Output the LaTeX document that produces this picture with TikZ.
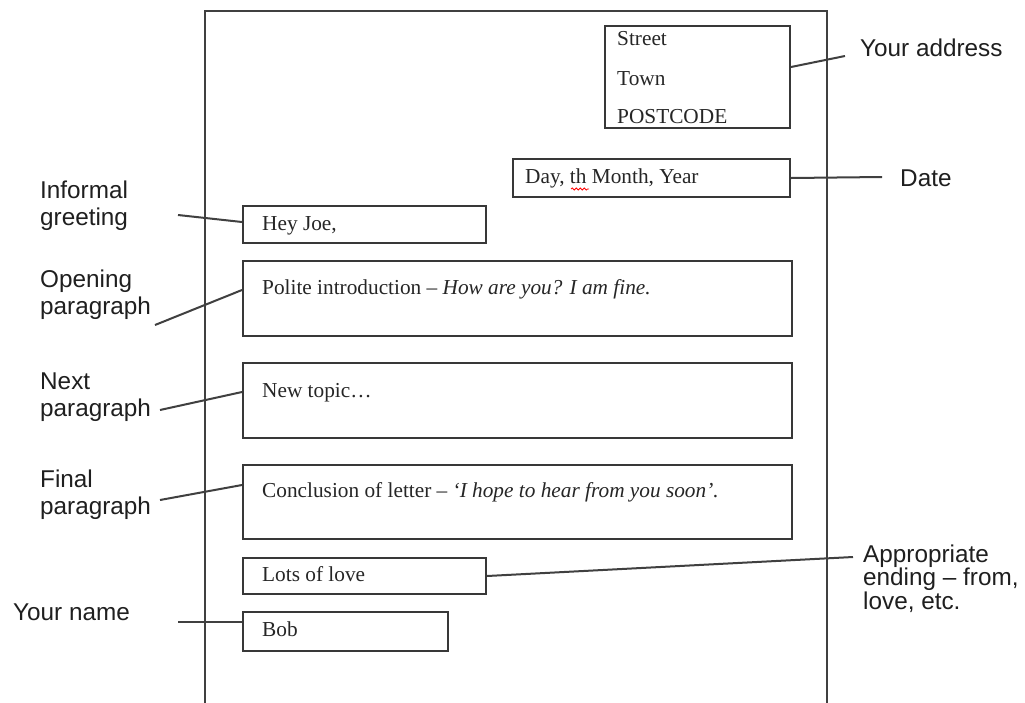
\documentclass[tikz,border=0pt]{standalone}
\usepackage{fontspec}
\setmainfont{Liberation Serif}
\newfontfamily\lblfont{Liberation Sans}
\usetikzlibrary{decorations.pathmorphing}
\begin{document}
\begin{tikzpicture}[x=1pt,y=-1pt,
  lbox/.style={draw=black!78, line width=2pt, inner sep=0pt, anchor=north west},
  btext/.style={anchor=base west, inner sep=0pt, font=\fontsize{21.3}{24}\selectfont, text=black!85},
  lbl/.style={anchor=north west, inner sep=0pt, align=left, font=\lblfont\fontsize{24.3}{27}\selectfont, text=black!88},
  lbltight/.style={lbl, font=\lblfont\fontsize{24.3}{23.5}\selectfont},
  conn/.style={draw=black!75, line width=2pt},
  pageedge/.style={draw=black!75, line width=2pt}]
\useasboundingbox (0,0) rectangle (1025,702);
\fill[white] (0,0) rectangle (1025,702);
% page outline
\draw[pageedge] (205,712) -- (205,11) -- (827,11) -- (827,712);

% boxes
\node[lbox, minimum width=185pt, minimum height=102pt] (addr) at (604,25) {};
\node[lbox, minimum width=277pt, minimum height=38pt] (date) at (512,158) {};
\node[lbox, minimum width=243pt, minimum height=37pt] (greet) at (242,205) {};
\node[lbox, minimum width=549pt, minimum height=75pt] (open) at (242,260) {};
\node[lbox, minimum width=549pt, minimum height=75pt] (next) at (242,362) {};
\node[lbox, minimum width=549pt, minimum height=74pt] (final) at (242,464) {};
\node[lbox, minimum width=243pt, minimum height=36pt] (lots) at (242,557) {};
\node[lbox, minimum width=205pt, minimum height=39pt] (bob) at (242,611) {};

% box texts
\node[btext] (street) at (617,45) {Street};
\node[btext] (town) at (617,85) {Town};
\node[btext] (postcode) at (617,123) {POSTCODE};
\node[btext] (datetxt) at (525,183) {Day, th Month, Year};
\draw[red, line width=0.8pt, decorate, decoration={snake, amplitude=1pt, segment length=4pt}] (571,189) -- (589,189);
\node[btext] (greettxt) at (262,230) {Hey Joe,};
\node[btext] (opentxt) at (262,294) {Polite introduction – \textit{How are you? I am fine.}};
\node[btext] (nexttxt) at (262,397) {New topic…};
\node[btext] (finaltxt) at (262,497) {Conclusion of letter – \textit{‘I hope to hear from you soon’.}};
\node[btext] (lotstxt) at (262,581) {Lots of love};
\node[btext] (bobtxt) at (262,636) {Bob};

% labels
\node[lbl] (laddr) at (860,38.5) {Your address};
\node[lbl] (ldate) at (900,170) {Date};
\node[lbl] (lgreet) at (40,180.5) {Informal\\greeting};
\node[lbl] (lopen) at (40,269.5) {Opening\\paragraph};
\node[lbl] (lnext) at (40,372.5) {Next\\paragraph};
\node[lbl] (lfinal) at (40,469.5) {Final\\paragraph};
\node[lbl] (lname) at (13,603.5) {Your name};
\node[lbltight] (lend) at (863,544.5) {Appropriate\\ending – from,\\love, etc.};

% connector free ends
\coordinate (caddr) at (845,56);
\coordinate (cdate) at (882,177);
\coordinate (cgreet) at (178,215);
\coordinate (copen) at (155,325);
\coordinate (cnext) at (160,410);
\coordinate (cfinal) at (160,500);
\coordinate (cend) at (853,557);
\coordinate (cname) at (178,622);

% connectors
\draw[conn] (addr.east |- 0,67) -- (caddr);
\draw[conn] (date.east) -- (cdate);
\draw[conn] (cgreet) -- (greet.west |- 0,222);
\draw[conn] (copen) -- (open.west |- 0,290);
\draw[conn] (cnext) -- (next.west |- 0,392);
\draw[conn] (cfinal) -- (final.west |- 0,485);
\draw[conn] (lots.east) -- (cend);
\draw[conn] (cname) -- (bob.west |- 0,622);
\end{tikzpicture}
\end{document}
